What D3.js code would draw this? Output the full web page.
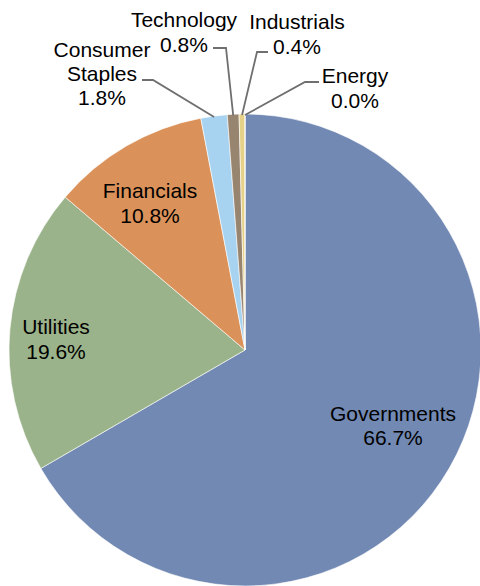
<!DOCTYPE html>
<html>
<head>
<meta charset="utf-8">
<script src="https://cdn.jsdelivr.net/npm/d3@7"></script>
<style>
  html, body { margin: 0; padding: 0; background: #fff; }
  svg { display: block; }
  text { font-family: "Liberation Sans", Arial, sans-serif; font-size: 21px; fill: #000; }
</style>
</head>
<body>
<svg id="chart" width="480" height="586"></svg>
<script>
// ---- data ----
const categories = ["Governments", "Utilities", "Financials", "Consumer Staples", "Technology", "Industrials", "Energy"];
const values = [66.7, 19.6, 10.8, 1.8, 0.8, 0.4, 0.0];
const labelNames = [["Governments"], ["Utilities"], ["Financials"], ["Consumer", "Staples"], ["Technology"], ["Industrials"], ["Energy"]];
const colors = ["#7289B3", "#9BB38A", "#DB925A", "#A7D3F0", "#988570", "#E6D188", "#B0C4DE"];

// ---- layout (positions only) ----
const W = 480, H = 586;
const cx = 245, cy = 350, R = 236;
// label anchor: center x, first baseline y, line spacing, optional leader [startX, startY, elbowX, elbowY]
const labelLayout = [
  { x: 393, y: 421, dy: 24 },
  { x: 56, y: 334, dy: 25 },
  { x: 150, y: 198, dy: 25 },
  { x: 102, y: 57, dy: 24, leader: [142, 80, 153, 80] },
  { x: 184, y: 27, dy: 25, leader: [213, 48, 226, 48] },
  { x: 297, y: 29, dy: 25, leader: [268, 52, 257, 52] },
  { x: 355, y: 83, dy: 25, leader: [319, 82, 305, 82] }
];

const svg = d3.select("#chart");
const g = svg.append("g").attr("transform", `translate(${cx},${cy})`);

const data = categories.map((c, i) => ({ name: c, value: values[i], i }));
const pie = d3.pie().sort(null).value(d => d.value).startAngle(0).endAngle(2 * Math.PI);
const arcs = pie(data);
const arc = d3.arc().innerRadius(0).outerRadius(R);
const edgeArc = d3.arc().innerRadius(R - 1).outerRadius(R - 1);

g.selectAll("path.slice")
  .data(arcs)
  .join("path")
  .attr("class", "slice")
  .attr("d", arc)
  .attr("fill", d => colors[d.data.i])
  .attr("stroke", "#ffffff")
  .attr("stroke-width", 0.6);

// leader lines
const lineGen = d3.line();
arcs.forEach(a => {
  const L = labelLayout[a.data.i];
  if (!L.leader) return;
  const c = edgeArc.centroid(a);
  const pts = [[L.leader[0], L.leader[1]], [L.leader[2], L.leader[3]], [c[0] + cx, c[1] + cy]];
  svg.append("path")
    .attr("d", lineGen(pts))
    .attr("fill", "none")
    .attr("stroke", "#6f6f6f")
    .attr("stroke-width", 1.8);
});

// labels
const fmt = d3.format(".1f");
arcs.forEach(a => {
  const L = labelLayout[a.data.i];
  const lines = labelNames[a.data.i].concat([fmt(a.data.value) + "%"]);
  const t = svg.append("text").attr("text-anchor", "middle");
  lines.forEach((ln, k) => {
    t.append("tspan").attr("x", L.x).attr("y", L.y + k * L.dy).text(ln);
  });
});
</script>
</body>
</html>
